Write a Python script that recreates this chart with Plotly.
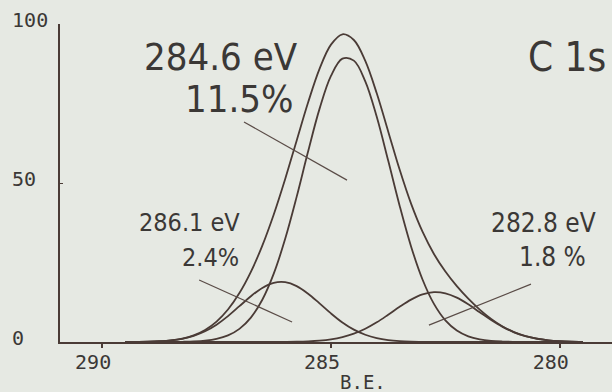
import plotly.graph_objects as go

# Binding energy grid (eV) and intensities
be = [289.50, 289.25, 289.00, 288.75, 288.50, 288.25, 288.00, 287.75, 287.50, 287.25,
      287.00, 286.75, 286.50, 286.25, 286.00, 285.75, 285.50, 285.25, 285.00, 284.75,
      284.50, 284.25, 284.00, 283.75, 283.50, 283.25, 283.00, 282.75, 282.50, 282.25,
      282.00, 281.75, 281.50, 281.25, 281.00, 280.75, 280.50, 280.25, 280.00, 279.75,
      279.50]
peak_main = [0.00, 0.00, 0.00, 0.01, 0.02, 0.07, 0.17, 0.42, 0.97, 2.07,
             4.13, 7.67, 13.30, 21.50, 32.44, 45.64, 59.90, 73.31, 83.69, 89.10,
             88.48, 81.96, 70.80, 57.05, 42.87, 30.05, 19.65, 11.98, 6.81, 3.61,
             1.79, 0.83, 0.35, 0.14, 0.05, 0.02, 0.01, 0.00, 0.00, 0.00,
             0.00]
peak_left = [0.01, 0.04, 0.09, 0.23, 0.50, 1.02, 1.93, 3.37, 5.45, 8.14,
             11.26, 14.39, 17.01, 18.60, 18.80, 17.58, 15.20, 12.15, 8.99, 6.14,
             3.88, 2.27, 1.23, 0.61, 0.28, 0.12, 0.05, 0.02, 0.01, 0.00,
             0.00, 0.00, 0.00, 0.00, 0.00, 0.00, 0.00, 0.00, 0.00, 0.00,
             0.00]
peak_right = [0.00, 0.00, 0.00, 0.00, 0.00, 0.00, 0.00, 0.00, 0.00, 0.00,
              0.00, 0.00, 0.01, 0.02, 0.04, 0.09, 0.20, 0.42, 0.83, 1.53,
              2.61, 4.16, 6.18, 8.57, 11.07, 13.33, 14.98, 15.69, 15.32, 13.94,
              11.84, 9.37, 6.92, 4.76, 3.05, 1.83, 1.02, 0.53, 0.26, 0.12,
              0.05]
envelope = [0.01, 0.04, 0.09, 0.24, 0.52, 1.09, 2.10, 3.79, 6.42, 10.21,
            15.39, 22.06, 30.32, 40.12, 51.28, 63.31, 75.30, 85.88, 93.51, 96.77,
            94.97, 88.39, 78.21, 66.23, 54.22, 43.50, 34.68, 27.69, 22.14, 17.55,
            13.63, 10.20, 7.27, 4.90, 3.10, 1.85, 1.03, 0.53, 0.26, 0.12,
            0.05]

x_ticks = [290, 285, 280]
x_ticktext = ["290", "285", "280"]
y_ticks = [0, 50, 100]
y_ticktext = ["0\u00a0\u00a0", "50\u00a0", "100"]

peak_labels = [
    ("284.6 eV", "11.5%"),
    ("286.1 eV", "2.4%"),
    ("282.8 eV", "1.8 %"),
]
# leader lines (BE start, I start, BE end, I end)
leaders = [
    (286.90, 69.2, 284.65, 50.9),
    (287.88, 19.5, 285.85, 6.3),
    (280.63, 18.2, 282.86, 5.3),
]

LINE = "#4a3b36"
TEXT = "#3b3836"
BG = "#e6e9e3"

fig = go.Figure()
for ys in (envelope, peak_main, peak_left, peak_right):
    fig.add_trace(go.Scatter(x=be, y=ys, mode="lines", line=dict(color=LINE, width=1.8, shape="spline"),
                             showlegend=False, hoverinfo="skip"))

for (x0, y0, x1, y1) in leaders:
    fig.add_shape(type="line", xref="x", yref="y", x0=x0, y0=y0, x1=x1, y1=y1,
                  line=dict(color="#5a4c47", width=1.2))

W, H = 612, 392
L, R, T, B = 60, 0, 24, 50
pw, ph = W - L - R, H - T - B


def px(x):
    return (x - L) / pw


def py(y):
    return (H - B - y) / ph


lab_font = "DejaVu Sans Condensed, DejaVu Sans"
# text annotations: (text, x_px, y_px, anchor, size)
texts = [
    (peak_labels[0][0], 300, 57, "right", 38),
    (peak_labels[0][1], 296, 99, "right", 38),
    (peak_labels[1][0], 242, 222, "right", 25),
    (peak_labels[1][1], 241, 257, "right", 25),
    (peak_labels[2][0], 598, 223, "right", 26),
    (peak_labels[2][1], 588, 257, "right", 26),
]
for t, x, y, anc, s in texts:
    fig.add_annotation(text=t, x=px(x), y=py(y), xref="paper", yref="paper",
                       xanchor=anc, yanchor="middle", showarrow=False,
                       font=dict(family=lab_font, size=s, color=TEXT))
fig.add_annotation(text="C 1s", x=px(608), y=py(57), xref="paper", yref="paper",
                   xanchor="right", yanchor="middle", showarrow=False,
                   font=dict(family=lab_font, size=40, color=TEXT))
fig.add_annotation(text="B.E.", x=px(363), y=py(382), xref="paper", yref="paper",
                   xanchor="center", yanchor="middle", showarrow=False,
                   font=dict(family="DejaVu Sans Mono", size=19, color=TEXT))

fig.update_layout(
    width=W, height=H,
    margin=dict(l=L, r=R, t=T, b=B, pad=0),
    paper_bgcolor=BG, plot_bgcolor=BG,
    xaxis=dict(range=[290.92, 278.86], tickvals=x_ticks, ticktext=x_ticktext,
               showgrid=False, zeroline=False, showline=True, linecolor=LINE, linewidth=2,
               ticks="outside", ticklen=4, tickcolor=LINE, tickwidth=1.5,
               ticklabelshift=9, ticklabelstandoff=-3,
               tickfont=dict(family="DejaVu Sans Mono", size=20, color=TEXT)),
    yaxis=dict(range=[0, 100], tickvals=y_ticks, ticktext=y_ticktext,
               showgrid=False, zeroline=False, showline=True, linecolor=LINE, linewidth=1.6,
               ticks="inside", ticklen=3, tickcolor=LINE,
               ticklabelshift=-4, ticklabelstandoff=6,
               tickfont=dict(family="DejaVu Sans Mono", size=20, color=TEXT)),
)

fig.write_html("out.html")
